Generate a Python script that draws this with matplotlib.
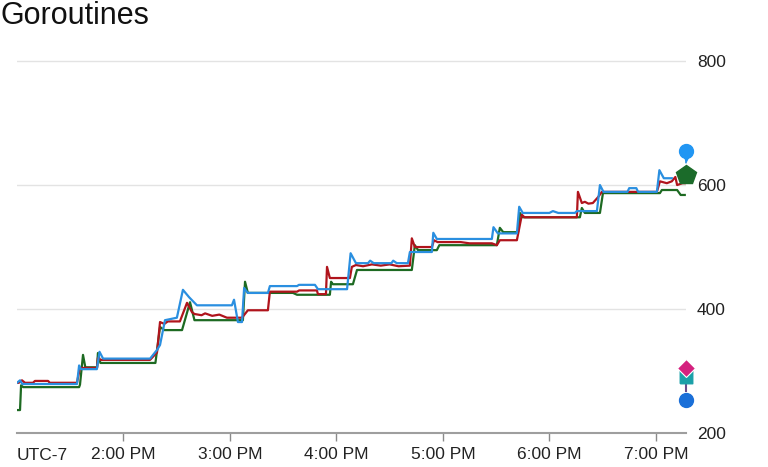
import matplotlib
matplotlib.use("Agg")
from matplotlib import pyplot as plt
from matplotlib.path import Path

plt.rcParams['font.family'] = ['Liberation Sans', 'DejaVu Sans']

# minutes after 1:00 PM (UTC-7)
blue_t = [0, 1.7, 3, 33.8, 35, 36, 45, 46.5, 48.5, 75, 78.9, 80.6, 83.4, 90.1, 93.5, 97, 101.4,
          121.1, 122.3, 124.5, 126.8, 128, 130, 141.4, 142.5, 157.8, 158.9, 167.9, 169.6, 186, 188,
          191, 197.8, 199, 201, 211, 212, 214, 220.3, 221.4, 233.8, 234.6, 236.6, 267.6, 268.5, 271,
          281.7, 283, 285, 300, 302, 305, 314.4, 315.5, 326.8, 328.5, 330.5, 344, 345, 349, 350,
          360.6, 362, 364.5, 369]
blue_v = [281, 285, 279, 279, 309, 303, 303, 331, 320, 320, 334, 342, 382, 386, 431, 419, 406,
          406, 415, 379, 379, 434, 426, 426, 437, 437, 439, 439, 432, 432, 490,
          474, 474, 478, 474, 474, 478, 474, 474, 492, 492, 523, 513, 513, 532, 522,
          522, 565, 555, 555, 558, 555, 555, 558, 558, 600, 589, 589, 595, 595, 589,
          589, 624, 611, 611]

red_t = [0, 1, 2.8, 4.5, 9, 10.1, 17.5, 18.5, 33.8, 34.4, 35.5, 45.1, 45.6, 47, 75, 78.9, 80.6,
         83, 85, 91.8, 95.8, 98.6, 100, 104, 106, 110, 114, 118.3, 126.8, 130.1, 141.4, 142.5,
         157.8, 159, 169, 169.6, 174.1, 174.7, 176.3, 187.6, 188.7, 191, 195, 200, 205, 210, 215,
         221.4, 222.5, 224.2, 233.8, 235, 237, 250, 255, 267.6, 270.4, 272.1, 281.7, 284.5, 286,
         315.5, 316.1, 318.3, 320, 322, 324.5, 327.3, 329.6, 360.6, 362.3, 366.2, 369, 371, 372,
         375, 376.3]
red_v = [281, 281, 285, 281, 281, 284, 284, 281, 281, 290, 305, 305, 321, 318, 318, 330, 379,
         376, 380, 380, 410, 395, 392, 390, 393, 389, 391, 386, 386, 398, 398, 428,
         428, 430, 430, 424, 424, 468, 450, 450, 468, 471, 469, 472, 470, 472, 469,
         470, 514, 500, 500, 511, 508, 508, 506, 506, 503, 511, 511, 552, 548,
         548, 589, 571, 573, 570, 571, 580, 589, 589, 606, 603, 606, 613, 600,
         603, 603]

green_t = [0, 1.7, 2.3, 3.5, 35, 35.5, 37.2, 38.5, 45.1, 45.6, 47, 78, 80.6, 83, 93, 97.5, 100,
           127.3, 128.5, 130.1, 155.5, 157.8, 176.3, 177, 178, 189.3, 191.6, 222.5, 224.2, 226,
           236.6, 238, 270.4, 272.1, 274, 282.3, 283.4, 285, 317.2, 318.3, 320, 328.5, 330.2,
           362.3, 363.4, 372, 374, 376.3]
green_v = [237, 237, 277, 274, 274, 278, 326, 306, 306, 329, 313, 313, 371, 366, 366, 411, 382,
           382, 444, 426, 426, 423, 423, 444, 440, 440, 463, 463, 503, 495,
           495, 503, 503, 531, 524, 524, 555, 548, 548, 563, 555, 555, 587,
           587, 592, 592, 584, 584]

tick_t = [60, 120, 180, 240, 300, 360]
tick_labels = ['2:00 PM', '3:00 PM', '4:00 PM', '5:00 PM', '6:00 PM', '7:00 PM']

# event markers at the right edge
event_t = 377
pin_v = 655
pentagon_v = 616
diamond_v = 305
notch_v = 290
circle_v = 253

fig = plt.figure(figsize=(7.68, 4.67), dpi=100)
ax = fig.add_axes([17 / 768, 34 / 467, 669 / 768, 393 / 467])

ax.plot(green_t, green_v, color='#1d6a22', lw=1.6, zorder=3)
ax.plot(red_t, red_v, color='#b0141c', lw=1.6, zorder=3)
ax.plot(blue_t, blue_v, color='#2a8fe0', lw=1.6, zorder=4)

# markers
notch = Path([(-1, -1), (1, -1), (1, 1), (0, 0.2), (-1, 1), (-1, -1)])
ax.plot([event_t, event_t], [pin_v - 14, pin_v - 24], color='#2a8fe0', lw=1.2,
        ls=(0, (2, 1.5)), clip_on=False, zorder=5)
ax.plot(event_t, pin_v, 'o', color='#2196f3', ms=10, clip_on=False, zorder=6)
ax.plot(event_t, pin_v - 8, 'v', color='#2196f3', ms=7, clip_on=False, zorder=6)
ax.plot(event_t, pentagon_v, 'p', color='#1b6b2a', ms=15, clip_on=False, zorder=6)
ax.plot(event_t, notch_v, marker=notch, color='#1aa0a8', ms=9, ls='none', clip_on=False, zorder=6)
ax.plot(event_t, diamond_v, 'D', color='#d4217f', ms=9, clip_on=False, zorder=7,
        markeredgecolor='white', markeredgewidth=0.8)
ax.plot([event_t, event_t], [281, 267], color='#6a4c8c', lw=1.5, clip_on=False, zorder=5)
ax.plot(event_t, circle_v, 'o', color='#1a6fd8', ms=10, clip_on=False, zorder=6)

ax.set_xlim(0, 377)
ax.set_ylim(200, 834)
ax.set_yticks([200, 400, 600, 800])
ax.yaxis.tick_right()
ax.tick_params(axis='y', length=0, pad=8, labelsize=12.5, labelcolor='#222222')
ax.set_xticks(tick_t)
ax.set_xticklabels(tick_labels)
ax.tick_params(axis='x', length=6, width=1, color='#8a8a8a', pad=4, labelsize=12.5,
               labelcolor='#222222')
for s in ['top', 'left', 'right']:
    ax.spines[s].set_visible(False)
ax.spines['bottom'].set_color('#9e9e9e')
ax.spines['bottom'].set_linewidth(1.5)
ax.yaxis.grid(True, color='#e3e3e3', lw=1)
ax.set_axisbelow(True)

fig.text(17 / 768, 1 - 455 / 467, 'UTC-7', fontsize=12.5, color='#222222', va='center', ha='left')
fig.text(1 / 768, 1 - 16 / 467, 'Goroutines', fontsize=22, color='#111111', va='center', ha='left')

fig.savefig('out.png', dpi=100)
